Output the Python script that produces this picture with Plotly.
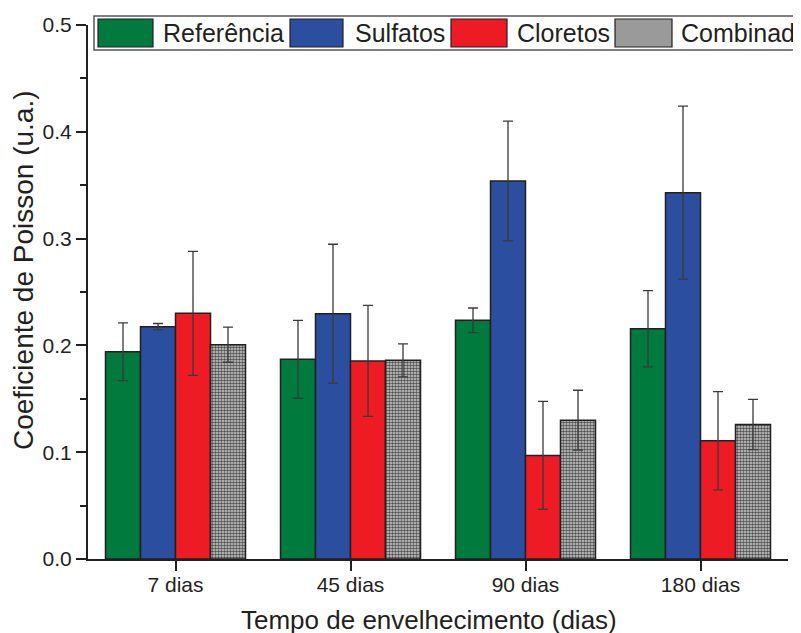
import plotly.graph_objects as go

categories = ["7 dias", "45 dias", "90 dias", "180 dias"]
series_names = ["Referência", "Sulfatos", "Cloretos", "Combinado"]

referencia = [0.194, 0.187, 0.2235, 0.2155]
referencia_err = [0.027, 0.0365, 0.0115, 0.0357]
sulfatos = [0.2175, 0.2297, 0.354, 0.343]
sulfatos_err = [0.003, 0.065, 0.056, 0.081]
cloretos = [0.230, 0.1855, 0.097, 0.1108]
cloretos_err = [0.058, 0.052, 0.0505, 0.046]
combinado = [0.2007, 0.186, 0.130, 0.126]
combinado_err = [0.0165, 0.0155, 0.028, 0.0235]

y_ticks = [0.0, 0.1, 0.2, 0.3, 0.4, 0.5]

colors = ["#007A3D", "#2B4F9E", "#ED1C24", "#9a9a9a"]
INK = "#231f20"
FONT = "Liberation Sans"

OFF = 8  # default page body margin
W, H = 801 - OFF, 633 - OFF
PLOT_X0, PLOT_X1, PLOT_Y0, PLOT_Y1 = 88, 788, 25, 559  # page pixels
L = PLOT_X0 - OFF
R = W - (PLOT_X1 - OFF)
T = PLOT_Y0 - OFF
B = H - (PLOT_Y1 - OFF)
PW, PH = PLOT_X1 - PLOT_X0, PLOT_Y1 - PLOT_Y0


def px_x(p):
    return (p - PLOT_X0) / PW


def px_y(p):
    return (PLOT_Y1 - p) / PH


fig = go.Figure()
data = [(referencia, referencia_err), (sulfatos, sulfatos_err),
        (cloretos, cloretos_err), (combinado, combinado_err)]
for i, (vals, errs) in enumerate(data):
    marker = dict(color=colors[i], line=dict(color=INK, width=1.5))
    if i == 3:
        marker["pattern"] = dict(shape=".", size=3, solidity=0.55,
                                 fgcolor="#505050", bgcolor="#d0d0d0",
                                 fillmode="replace")
    fig.add_trace(go.Bar(
        x=categories, y=vals, name=series_names[i], marker=marker,
        error_y=dict(type="data", array=errs, visible=True,
                     color="#3a3a3a", thickness=1.3, width=5),
        showlegend=False,
    ))

fig.update_layout(
    width=W, height=H,
    margin=dict(l=L, r=R, t=T, b=B, pad=0, autoexpand=False),
    paper_bgcolor="white", plot_bgcolor="white",
    barmode="group", bargap=0.2, bargroupgap=0,
    font=dict(family=FONT, color=INK),
    xaxis=dict(
        type="category", categoryorder="array", categoryarray=categories,
        range=[-0.5, 3.5], showline=True, linecolor=INK, linewidth=2,
        ticks="outside", ticklen=10, tickwidth=1.5, tickcolor=INK,
        tickfont=dict(size=21, family=FONT, color=INK),
        showgrid=False, zeroline=False, ticklabelstandoff=-4, automargin=False,
    ),
    yaxis=dict(
        range=[0, 0.5], tickvals=y_ticks, tickformat=".1f",
        showline=True, linecolor=INK, linewidth=2,
        ticks="outside", ticklen=10, tickwidth=1.5, tickcolor=INK,
        tickfont=dict(size=21, family=FONT, color=INK),
        minor=dict(dtick=0.05, ticks="outside", ticklen=6, tickwidth=1.5,
                   tickcolor=INK, showgrid=False),
        showgrid=False, zeroline=False, automargin=False,
    ),
)

# axis titles
fig.add_annotation(text="Tempo de envelhecimento (dias)", xref="paper", yref="paper",
                   x=px_x(429), y=px_y(620), xanchor="center", yanchor="middle",
                   showarrow=False, font=dict(size=26, family=FONT, color=INK))
fig.add_annotation(text="Coeficiente de Poisson (u.a.)", xref="paper", yref="paper",
                   x=px_x(23), y=px_y(270), xanchor="center", yanchor="middle",
                   textangle=-90, showarrow=False,
                   font=dict(size=28, family=FONT, color=INK))

# custom legend
shapes = [dict(type="rect", xref="paper", yref="paper",
               x0=px_x(94), x1=px_x(830), y0=px_y(50), y1=px_y(16),
               line=dict(color="#555555", width=1.5), fillcolor="white", layer="above")]
sw_x = [(98, 153), (290, 343), (451, 507), (615, 672)]
txt_x = [161, 353, 515, 679]
for i in range(4):
    shapes.append(dict(type="rect", xref="paper", yref="paper",
                       x0=px_x(sw_x[i][0]), x1=px_x(sw_x[i][1]),
                       y0=px_y(47), y1=px_y(19),
                       line=dict(color=INK, width=1.2), fillcolor=colors[i],
                       layer="above"))
    fig.add_annotation(text=series_names[i], xref="paper", yref="paper",
                       x=px_x(txt_x[i]), y=px_y(33), xanchor="left", yanchor="middle",
                       showarrow=False, font=dict(size=25, family=FONT, color=INK))
fig.update_layout(shapes=shapes)

fig.write_html("out.html")
